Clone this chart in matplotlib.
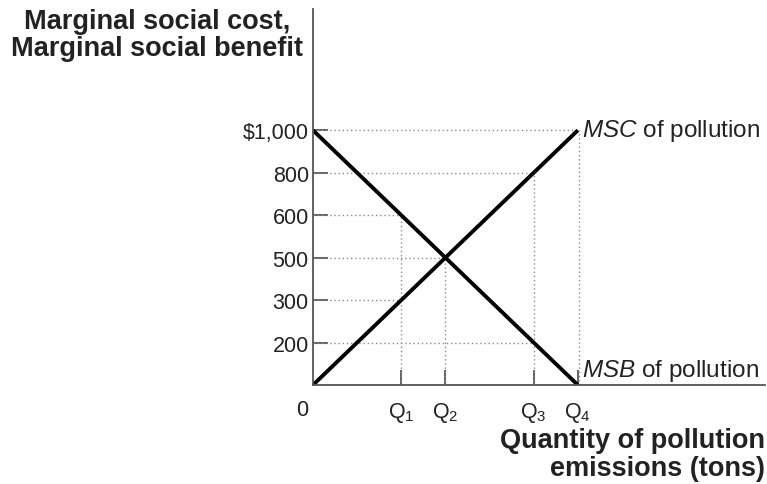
import matplotlib
matplotlib.use('Agg')
import matplotlib.pyplot as plt

plt.rcParams['font.family'] = ['Liberation Sans', 'DejaVu Sans']
plt.rcParams['mathtext.fontset'] = 'custom'
plt.rcParams['mathtext.rm'] = 'Liberation Sans'
plt.rcParams['mathtext.it'] = 'Liberation Sans:italic'

# price levels (evenly spaced on the axis, as in the drawing)
price_labels = ['200', '300', '500', '600', '800', '$1,000']
price_pos = [1, 2, 3, 4, 5, 6]

# quantities
q_labels = [r'$\mathrm{Q}_1$', r'$\mathrm{Q}_2$', r'$\mathrm{Q}_3$', r'$\mathrm{Q}_4$']
q_pos = [2, 3, 5, 6]

# curves
msc_x = [0, 6]
msc_y = [0, 6]
msb_x = [0, 6]
msb_y = [6, 0]

# dotted guide lines: (price level, quantity reached)
guide_h = [(6, 6), (5, 5), (4, 2), (3, 3), (2, 2), (1, 5)]
guide_v = [(2, 4), (3, 3), (5, 5), (6, 6)]

fig = plt.figure(figsize=(7.67, 4.85), dpi=100)
ax = fig.add_axes([0.408, 0.204, 0.589, 0.775])
ax.set_xlim(0, 10.23)
ax.set_ylim(0, 8.85)

for s in ['top', 'right']:
    ax.spines[s].set_visible(False)
for s in ['left', 'bottom']:
    ax.spines[s].set_color('#555555')
    ax.spines[s].set_linewidth(1.3)

gc = '#8a8a8a'
for y, x in guide_h:
    ax.plot([0, x], [y, y], ls=(0, (1, 2)), color=gc, lw=1)
for x, y in guide_v:
    xx = x + 0.03 if x == 6 else x
    ax.plot([xx, xx], [0, y], ls=(0, (1, 2)), color=gc, lw=1)

ax.plot(msc_x, msc_y, color='black', lw=2.8, solid_capstyle='butt')
ax.plot(msb_x, msb_y, color='black', lw=2.8, solid_capstyle='butt')

ax.set_yticks(price_pos)
ax.set_yticklabels(price_labels, fontsize=15.5, color='#222222')
ax.set_xticks(q_pos)
ax.set_xticklabels(q_labels, fontsize=15.5, color='#222222')
ax.tick_params(axis='both', direction='in', length=11, width=1.3, color='#555555')
ax.tick_params(axis='y', pad=3)
ax.tick_params(axis='x', pad=11)
ax.text(-0.1, -0.33, '0', fontsize=15.5, ha='right', va='top', color='#222222')

ax.text(6.1, 6, r'$\mathit{MSC}$ of pollution', fontsize=17.5, va='center', ha='left',
        color='#222222')
ax.text(6.1, 0.35, r'$\mathit{MSB}$ of pollution', fontsize=17.5, va='center', ha='left',
        color='#222222')

fig.text(0.205, 0.982, 'Marginal social cost,\nMarginal social benefit', fontsize=19.5,
         fontweight='bold', ha='center', va='top', linespacing=1.08, color='#222222')
fig.text(0.998, 0.118, 'Quantity of pollution\nemissions (tons)', fontsize=19.5,
         fontweight='bold', ha='right', va='top', linespacing=1.12, color='#222222',
         multialignment='right')

fig.savefig('out.png', dpi=100)
